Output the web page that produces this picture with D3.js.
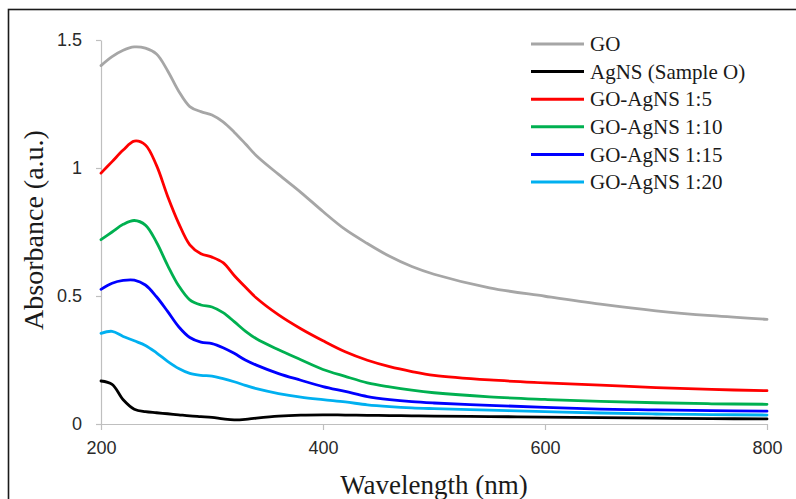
<!DOCTYPE html>
<html>
<head>
<meta charset="utf-8">
<script src="https://cdn.jsdelivr.net/npm/d3@7"></script>
<style>
  html, body { margin: 0; padding: 0; background: #fff; }
  svg { display: block; }
</style>
</head>
<body>
<svg id="chart" width="796" height="499"></svg>
<script>
// UV-Vis absorbance spectra
const wavelengths = [200, 210, 220, 230, 240, 250, 260, 270, 280, 290, 300, 310, 320, 330, 340,
  360, 380, 400, 420, 440, 460, 480, 500, 550, 600, 650, 700, 750, 800];

const seriesNames = ["GO", "AgNS (Sample O)", "GO-AgNS 1:5", "GO-AgNS 1:10", "GO-AgNS 1:15", "GO-AgNS 1:20"];
const seriesColors = ["#a6a6a6", "#000000", "#ff0000", "#00b050", "#0000ff", "#00b0f0"];

const goValues = [1.40, 1.435, 1.46, 1.473, 1.468, 1.445, 1.38, 1.30, 1.24, 1.22, 1.207, 1.18, 1.14, 1.095, 1.048,
  0.975, 0.905, 0.83, 0.76, 0.705, 0.655, 0.615, 0.585, 0.532, 0.499, 0.468, 0.442, 0.423, 0.409];
const agnsValues = [0.168, 0.155, 0.095, 0.058, 0.048, 0.044, 0.040, 0.036, 0.032, 0.029, 0.026, 0.020, 0.016, 0.018, 0.023,
  0.031, 0.035, 0.036, 0.035, 0.034, 0.033, 0.032, 0.031, 0.029, 0.027, 0.025, 0.023, 0.021, 0.020];
const ratio5Values = [0.98, 1.025, 1.07, 1.105, 1.09, 1.01, 0.89, 0.784, 0.70, 0.665, 0.652, 0.63, 0.58, 0.535, 0.492,
  0.426, 0.372, 0.325, 0.282, 0.249, 0.224, 0.205, 0.190, 0.172, 0.161, 0.152, 0.142, 0.135, 0.130];
const ratio10Values = [0.72, 0.75, 0.78, 0.795, 0.777, 0.71, 0.62, 0.54, 0.485, 0.465, 0.457, 0.435, 0.40, 0.363, 0.333,
  0.29, 0.251, 0.213, 0.186, 0.161, 0.145, 0.132, 0.122, 0.106, 0.096, 0.088, 0.083, 0.079, 0.077];
const ratio15Values = [0.526, 0.55, 0.561, 0.562, 0.543, 0.497, 0.44, 0.38, 0.338, 0.32, 0.314, 0.298, 0.276, 0.25, 0.23,
  0.197, 0.171, 0.146, 0.127, 0.107, 0.095, 0.087, 0.082, 0.073, 0.065, 0.058, 0.055, 0.052, 0.050];
const ratio20Values = [0.354, 0.362, 0.342, 0.325, 0.307, 0.278, 0.245, 0.217, 0.198, 0.19, 0.187, 0.177, 0.165, 0.151, 0.138,
  0.119, 0.105, 0.095, 0.086, 0.075, 0.068, 0.063, 0.060, 0.054, 0.048, 0.043, 0.039, 0.037, 0.035];

const seriesValues = [goValues, agnsValues, ratio5Values, ratio10Values, ratio15Values, ratio20Values];

const xTicks = [200, 400, 600, 800];
const yTicks = [0, 0.5, 1, 1.5];
const yTickLabels = ["0", "0.5", "1", "1.5"];

const svg = d3.select("#chart");

// outer frame
svg.append("rect")
  .attr("x", 8.5).attr("y", 9.5)
  .attr("width", 820).attr("height", 520)
  .attr("fill", "none").attr("stroke", "#1a1a1a").attr("stroke-width", 1.6);

const x = d3.scaleLinear().domain([200, 800]).range([101, 767]);
const y = d3.scaleLinear().domain([0, 1.5]).range([424, 40]);

const axisColor = "#bfbfbf";
const tickFont = "'Liberation Sans', Arial, sans-serif";
const serif = "'Liberation Serif', 'Times New Roman', serif";

// y axis
const gy = svg.append("g")
  .attr("transform", `translate(${x(200)},0)`)
  .call(d3.axisLeft(y).tickValues(yTicks)
    .tickFormat((d, i) => yTickLabels[i])
    .tickSize(5).tickSizeOuter(0).tickPadding(14));
gy.select(".domain").attr("stroke", axisColor).attr("stroke-width", 1.2);
gy.selectAll(".tick line").attr("stroke", axisColor).attr("stroke-width", 1.2);
gy.selectAll(".tick text").attr("font-family", tickFont).attr("font-size", 18).attr("fill", "#2a2a2a");

// x axis
const gx = svg.append("g")
  .attr("transform", `translate(0,${y(0)})`)
  .call(d3.axisBottom(x).tickValues(xTicks)
    .tickFormat(d3.format("d"))
    .tickSize(6).tickSizeOuter(0).tickPadding(11));
gx.select(".domain").attr("stroke", axisColor).attr("stroke-width", 1.2);
gx.selectAll(".tick line").attr("stroke", axisColor).attr("stroke-width", 1.2);
gx.selectAll(".tick text").attr("font-family", tickFont).attr("font-size", 18).attr("fill", "#2a2a2a");

// spectra
const line = d3.line()
  .x((d, i) => x(wavelengths[i]))
  .y(d => y(d))
  .curve(d3.curveCatmullRom.alpha(0.5));

seriesValues.forEach((vals, k) => {
  svg.append("path")
    .datum(vals)
    .attr("d", line)
    .attr("fill", "none")
    .attr("stroke", seriesColors[k])
    .attr("stroke-width", 2.8)
    .attr("stroke-linejoin", "round")
    .attr("stroke-linecap", "round");
});

// axis titles
svg.append("text")
  .attr("x", 434).attr("y", 494)
  .attr("text-anchor", "middle")
  .attr("font-family", serif).attr("font-size", 27).attr("fill", "#1a1a1a")
  .text("Wavelength (nm)");

svg.append("text")
  .attr("transform", "translate(43,230) rotate(-90)")
  .attr("text-anchor", "middle")
  .attr("font-family", serif).attr("font-size", 28).attr("fill", "#1a1a1a")
  .text("Absorbance (a.u.)");

// legend
const legend = svg.append("g");
const legendY = d3.scaleLinear().domain([0, 5]).range([44, 182]);
seriesNames.forEach((name, k) => {
  const yy = legendY(k);
  legend.append("line")
    .attr("x1", 531).attr("x2", 584).attr("y1", yy).attr("y2", yy)
    .attr("stroke", seriesColors[k]).attr("stroke-width", 3);
  legend.append("text")
    .attr("x", 590).attr("y", yy).attr("dy", "0.34em")
    .attr("font-family", serif).attr("font-size", 21).attr("fill", "#1a1a1a")
    .text(name);
});
</script>
</body>
</html>
